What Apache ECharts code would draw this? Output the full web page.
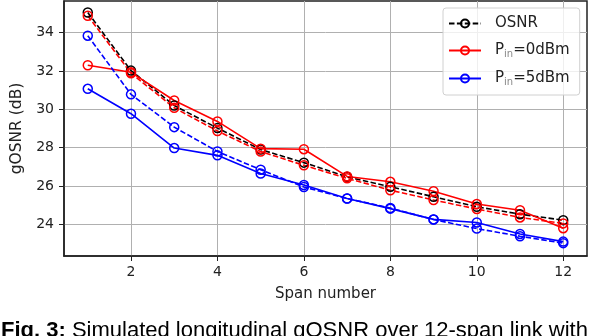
<!DOCTYPE html>
<html>
<head>
<meta charset="utf-8">
<style>
  html, body { margin: 0; padding: 0; background: #fff; }
  #chart { width: 596px; height: 336px; }
</style>
<script src="https://cdn.jsdelivr.net/npm/echarts@6/dist/echarts.min.js"></script>
</head>
<body>
<div id="chart"></div>
<script>
// --- DATEN ---
const spans = [1, 2, 3, 4, 5, 6, 7, 8, 9, 10, 11, 12];
const osnr = [35.05, 32.02, 30.2, 29.02, 27.9, 27.22, 26.48, 25.96, 25.44, 24.92, 24.53, 24.22];
const pin0Solid = [32.3, 31.93, 30.46, 29.37, 27.95, 27.92, 26.5, 26.22, 25.73, 25.06, 24.74, 23.8];
const pin0Dashed = [34.88, 31.88, 30.08, 28.87, 27.8, 27.08, 26.4, 25.78, 25.27, 24.8, 24.36, 24.05];
const pin5Solid = [31.07, 29.77, 27.98, 27.6, 26.65, 26.05, 25.35, 24.82, 24.26, 24.1, 23.5, 23.1];
const pin5Dashed = [33.84, 30.78, 29.07, 27.8, 26.85, 25.95, 25.35, 24.85, 24.25, 23.78, 23.38, 23.02];
const xTicks = [2, 4, 6, 8, 10, 12];
const yTicks = [24, 26, 28, 30, 32, 34];

const FONT = 'DejaVu Sans';
const RED = '#ff0000';
const BLUE = '#0000ff';
const DASH = [5.5, 2.4];

const chart = echarts.init(document.getElementById('chart'), null, { renderer: 'canvas' });

function pairs(vals) {
    return spans.map((s, i) => [s, vals[i]]);
}

function lineSeries(name, vals, color, dashed) {
    return {
        name: name,
        type: 'line',
        data: pairs(vals),
        symbol: 'circle',
        symbolSize: 9,
        itemStyle: { color: 'rgba(0,0,0,0)', borderColor: color, borderWidth: 1.5 },
        lineStyle: { color: color, width: 1.6, type: dashed ? DASH : 'solid' },
        emphasis: { disabled: true }
    };
}

const legendNames = {
    'OSNR': '{a|OSNR}',
    'Pin0': '{a|P}{s|in}{a|=0dBm}',
    'Pin5': '{a|P}{s|in}{a|=5dBm}'
};

chart.setOption({
    animation: false,
    backgroundColor: '#fff',
    textStyle: { fontFamily: FONT },
    grid: {
        left: 64, right: 9, top: 1, bottom: 80,
        show: true, borderColor: '#222', borderWidth: 1.5
    },
    xAxis: {
        type: 'value',
        min: 0.45,
        max: 12.55,
        name: 'Span number',
        nameLocation: 'middle',
        nameGap: 31,
        nameTextStyle: { fontSize: 15, color: '#222', fontFamily: FONT },
        axisLine: { show: true, lineStyle: { color: '#222', width: 1.5 } },
        axisTick: { show: true, inside: false, length: 5, customValues: xTicks, lineStyle: { color: '#222' } },
        axisLabel: { customValues: xTicks, fontSize: 14, color: '#222', margin: 9, fontFamily: FONT },
        splitLine: { show: true, lineStyle: { color: '#b0b0b0', width: 1 } }
    },
    yAxis: {
        type: 'value',
        min: 22.35,
        max: 35.65,
        name: 'gOSNR (dB)',
        nameLocation: 'middle',
        nameGap: 38,
        nameTextStyle: { fontSize: 15.5, color: '#222', fontFamily: FONT },
        axisLine: { show: true, lineStyle: { color: '#222', width: 1.5 } },
        axisTick: { show: true, inside: false, length: 5, customValues: yTicks, lineStyle: { color: '#222' } },
        axisLabel: { customValues: yTicks, fontSize: 14, color: '#222', margin: 10, fontFamily: FONT },
        splitLine: { show: true, lineStyle: { color: '#b0b0b0', width: 1 } }
    },
    legend: {
        data: ['OSNR', 'Pin0', 'Pin5'],
        orient: 'vertical',
        left: 443,
        top: 8,
        width: 137,
        padding: [8, 10, 8, 5],
        itemWidth: 32,
        itemHeight: 10,
        itemGap: 12,
        borderColor: '#d0d0d0',
        borderWidth: 1,
        borderRadius: 3,
        backgroundColor: 'rgba(255,255,255,0.8)',
        formatter: name => legendNames[name],
        textStyle: {
            color: '#222',
            fontFamily: FONT,
            padding: [0, 0, 0, 9],
            rich: {
                a: { fontSize: 15, lineHeight: 17, fontFamily: FONT, color: '#222' },
                s: { fontSize: 10, lineHeight: 10, verticalAlign: 'bottom', fontFamily: FONT, color: '#888' }
            }
        }
    },
    graphic: [{
        type: 'text',
        left: 1,
        top: 320,
        style: {
            text: '{b|Fig. 3:} Simulated longitudinal gOSNR over 12-span link with',
            font: '22px "Liberation Sans"',
            fill: '#000',
            rich: {
                b: { fontWeight: 'bold', fontSize: 22, fontFamily: 'Liberation Sans' }
            }
        }
    }],
    series: [
        lineSeries('OSNR', osnr, '#000000', true),
        lineSeries('Pin0', pin0Solid, RED, false),
        lineSeries('Pin0 dashed', pin0Dashed, RED, true),
        lineSeries('Pin5', pin5Solid, BLUE, false),
        lineSeries('Pin5 dashed', pin5Dashed, BLUE, true)
    ]
});

window.addEventListener('resize', () => chart.resize());
</script>
</body>
</html>
